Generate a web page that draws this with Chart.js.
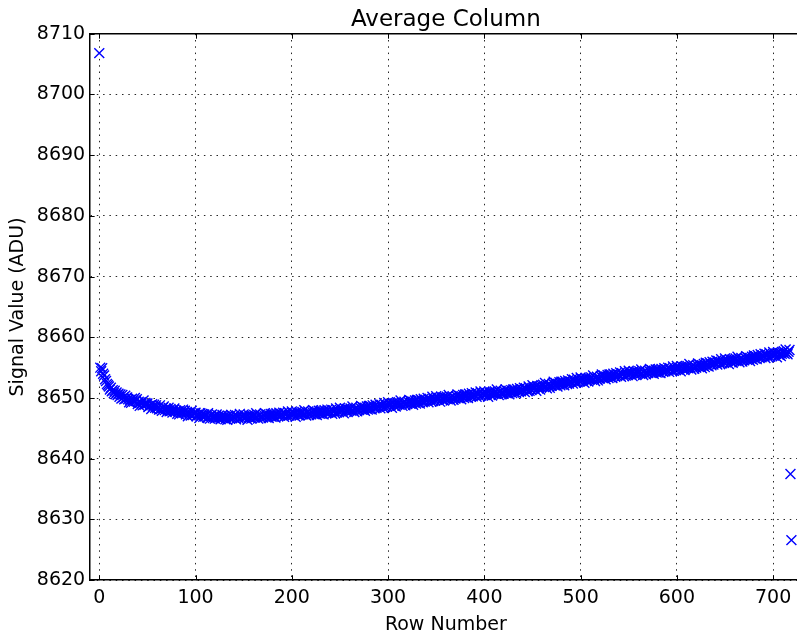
<!DOCTYPE html>
<html>
<head>
<meta charset="utf-8">
<script src="https://cdn.jsdelivr.net/npm/chart.js@4.4.1/dist/chart.umd.min.js"></script>
<style>
  html, body { margin: 0; padding: 0; background: #fff; overflow: hidden; }
  #wrap { width: 815px; height: 637px; }
</style>
</head>
<body>
<div id="wrap"><canvas id="grafico" width="815" height="637"></canvas></div>
<script>
// Valores (una columna media por fila)
const valores = [
  8706.8, 8655.0, 8654.4, 8654.9, 8654.0, 8653.7, 8653.1, 8652.8, 8652.3, 8652.1,
  8651.9, 8651.4, 8651.7, 8651.1, 8651.3, 8650.8, 8651.2, 8650.6, 8650.9, 8650.5,
  8650.7, 8650.2, 8650.6, 8649.9, 8650.5, 8650.1, 8649.8, 8650.4, 8649.9, 8650.1,
  8649.8, 8649.3, 8649.7, 8649.2, 8649.9, 8649.6, 8649.4, 8650.0, 8649.5, 8649.8,
  8649.0, 8649.4, 8648.7, 8649.3, 8649.1, 8648.8, 8649.6, 8648.9, 8649.2, 8649.0,
  8649.1, 8648.5, 8648.7, 8648.8, 8648.2, 8649.0, 8648.6, 8648.9, 8648.4, 8648.8,
  8648.3, 8648.5, 8648.1, 8648.8, 8648.2, 8647.9, 8648.4, 8648.6, 8648.0, 8648.3,
  8647.7, 8648.1, 8648.4, 8647.8, 8648.2, 8647.9, 8647.6, 8648.0, 8648.3, 8647.8,
  8647.9, 8647.4, 8647.8, 8647.3, 8648.0, 8647.7, 8647.5, 8648.1, 8647.6, 8647.9,
  8647.3, 8647.7, 8647.0, 8647.6, 8647.4, 8647.1, 8647.9, 8647.2, 8647.5, 8647.3,
  8647.6, 8647.0, 8647.2, 8647.3, 8646.7, 8647.5, 8647.1, 8647.4, 8646.9, 8647.3,
  8647.0, 8647.2, 8646.8, 8647.5, 8646.9, 8646.6, 8647.1, 8647.3, 8646.7, 8647.0,
  8646.6, 8647.0, 8647.3, 8646.7, 8647.1, 8646.8, 8646.5, 8646.9, 8647.2, 8646.7,
  8647.0, 8646.5, 8646.9, 8646.4, 8647.1, 8646.8, 8646.6, 8647.2, 8646.7, 8647.0,
  8646.8, 8647.2, 8646.5, 8647.1, 8646.9, 8646.6, 8647.4, 8646.7, 8647.0, 8646.8,
  8647.3, 8646.7, 8646.9, 8647.0, 8646.4, 8647.2, 8646.8, 8647.1, 8646.6, 8647.0,
  8647.0, 8647.2, 8646.8, 8647.5, 8646.9, 8646.6, 8647.1, 8647.3, 8646.7, 8647.0,
  8646.8, 8647.2, 8647.5, 8646.9, 8647.3, 8647.0, 8646.7, 8647.1, 8647.4, 8646.9,
  8647.4, 8646.9, 8647.3, 8646.8, 8647.5, 8647.2, 8647.0, 8647.6, 8647.1, 8647.4,
  8647.2, 8647.6, 8646.9, 8647.5, 8647.3, 8647.0, 8647.8, 8647.1, 8647.4, 8647.2,
  8647.8, 8647.2, 8647.4, 8647.5, 8646.9, 8647.7, 8647.3, 8647.6, 8647.1, 8647.5,
  8647.5, 8647.7, 8647.3, 8648.0, 8647.4, 8647.1, 8647.6, 8647.8, 8647.2, 8647.5,
  8647.3, 8647.7, 8648.0, 8647.4, 8647.8, 8647.5, 8647.2, 8647.6, 8647.9, 8647.4,
  8647.9, 8647.4, 8647.8, 8647.3, 8648.0, 8647.7, 8647.5, 8648.1, 8647.6, 8647.9,
  8647.7, 8648.1, 8647.4, 8648.0, 8647.8, 8647.5, 8648.3, 8647.6, 8647.9, 8647.7,
  8648.4, 8647.8, 8648.0, 8648.1, 8647.5, 8648.3, 8647.9, 8648.2, 8647.7, 8648.1,
  8648.1, 8648.3, 8647.9, 8648.6, 8648.0, 8647.7, 8648.2, 8648.4, 8647.8, 8648.1,
  8648.0, 8648.4, 8648.7, 8648.1, 8648.5, 8648.2, 8647.9, 8648.3, 8648.6, 8648.1,
  8648.7, 8648.2, 8648.6, 8648.1, 8648.8, 8648.5, 8648.3, 8648.9, 8648.4, 8648.7,
  8648.6, 8649.0, 8648.3, 8648.9, 8648.7, 8648.4, 8649.2, 8648.5, 8648.8, 8648.6,
  8649.3, 8648.7, 8648.9, 8649.0, 8648.4, 8649.2, 8648.8, 8649.1, 8648.6, 8649.0,
  8649.1, 8649.3, 8648.9, 8649.6, 8649.0, 8648.7, 8649.2, 8649.4, 8648.8, 8649.1,
  8649.0, 8649.4, 8649.7, 8649.1, 8649.5, 8649.2, 8648.9, 8649.3, 8649.6, 8649.1,
  8649.7, 8649.2, 8649.6, 8649.1, 8649.8, 8649.5, 8649.3, 8649.9, 8649.4, 8649.7,
  8649.6, 8650.0, 8649.3, 8649.9, 8649.7, 8649.4, 8650.2, 8649.5, 8649.8, 8649.6,
  8650.3, 8649.7, 8649.9, 8650.0, 8649.4, 8650.2, 8649.8, 8650.1, 8649.6, 8650.0,
  8650.0, 8650.2, 8649.8, 8650.5, 8649.9, 8649.6, 8650.1, 8650.3, 8649.7, 8650.0,
  8649.9, 8650.3, 8650.6, 8650.0, 8650.4, 8650.1, 8649.8, 8650.2, 8650.5, 8650.0,
  8650.6, 8650.1, 8650.5, 8650.0, 8650.7, 8650.4, 8650.2, 8650.8, 8650.3, 8650.6,
  8650.5, 8650.9, 8650.2, 8650.8, 8650.6, 8650.3, 8651.1, 8650.4, 8650.7, 8650.5,
  8651.1, 8650.5, 8650.7, 8650.8, 8650.2, 8651.0, 8650.6, 8650.9, 8650.4, 8650.8,
  8650.9, 8651.1, 8650.7, 8651.4, 8650.8, 8650.5, 8651.0, 8651.2, 8650.6, 8650.9,
  8650.7, 8651.1, 8651.4, 8650.8, 8651.2, 8650.9, 8650.6, 8651.0, 8651.3, 8650.8,
  8651.4, 8650.9, 8651.3, 8650.8, 8651.5, 8651.2, 8651.0, 8651.6, 8651.1, 8651.4,
  8651.3, 8651.7, 8651.0, 8651.6, 8651.4, 8651.1, 8651.9, 8651.2, 8651.5, 8651.3,
  8652.1, 8651.5, 8651.7, 8651.8, 8651.2, 8652.0, 8651.6, 8651.9, 8651.4, 8651.8,
  8652.0, 8652.2, 8651.8, 8652.5, 8651.9, 8651.6, 8652.1, 8652.3, 8651.7, 8652.0,
  8652.0, 8652.4, 8652.7, 8652.1, 8652.5, 8652.2, 8651.9, 8652.3, 8652.6, 8652.1,
  8652.7, 8652.2, 8652.6, 8652.1, 8652.8, 8652.5, 8652.3, 8652.9, 8652.4, 8652.7,
  8652.7, 8653.1, 8652.4, 8653.0, 8652.8, 8652.5, 8653.3, 8652.6, 8652.9, 8652.7,
  8653.4, 8652.8, 8653.0, 8653.1, 8652.5, 8653.3, 8652.9, 8653.2, 8652.7, 8653.1,
  8653.2, 8653.4, 8653.0, 8653.7, 8653.1, 8652.8, 8653.3, 8653.5, 8652.9, 8653.2,
  8653.2, 8653.6, 8653.9, 8653.3, 8653.7, 8653.4, 8653.1, 8653.5, 8653.8, 8653.3,
  8653.9, 8653.4, 8653.8, 8653.3, 8654.0, 8653.7, 8653.5, 8654.1, 8653.6, 8653.9,
  8653.8, 8654.2, 8653.5, 8654.1, 8653.9, 8653.6, 8654.4, 8653.7, 8654.0, 8653.8,
  8654.5, 8653.9, 8654.1, 8654.2, 8653.6, 8654.4, 8654.0, 8654.3, 8653.8, 8654.2,
  8654.2, 8654.4, 8654.0, 8654.7, 8654.1, 8653.8, 8654.3, 8654.5, 8653.9, 8654.2,
  8654.1, 8654.5, 8654.8, 8654.2, 8654.6, 8654.3, 8654.0, 8654.4, 8654.7, 8654.2,
  8654.7, 8654.2, 8654.6, 8654.1, 8654.8, 8654.5, 8654.3, 8654.9, 8654.4, 8654.7,
  8654.6, 8655.0, 8654.3, 8654.9, 8654.7, 8654.4, 8655.2, 8654.5, 8654.8, 8654.6,
  8655.3, 8654.7, 8654.9, 8655.0, 8654.4, 8655.2, 8654.8, 8655.1, 8654.6, 8655.0,
  8655.1, 8655.3, 8654.9, 8655.6, 8655.0, 8654.7, 8655.2, 8655.4, 8654.8, 8655.1,
  8655.0, 8655.4, 8655.7, 8655.1, 8655.5, 8655.2, 8654.9, 8655.3, 8655.6, 8655.1,
  8655.8, 8655.3, 8655.7, 8655.2, 8655.9, 8655.6, 8655.4, 8656.0, 8655.5, 8655.8,
  8655.8, 8656.2, 8655.5, 8656.1, 8655.9, 8655.6, 8656.4, 8655.7, 8656.0, 8655.8,
  8656.5, 8655.9, 8656.1, 8656.2, 8655.6, 8656.4, 8656.0, 8656.3, 8655.8, 8656.2,
  8656.3, 8656.5, 8656.1, 8656.8, 8656.2, 8655.9, 8656.4, 8656.6, 8656.0, 8656.3,
  8656.2, 8656.6, 8656.9, 8656.3, 8656.7, 8656.4, 8656.1, 8656.5, 8656.8, 8656.3,
  8657.0, 8656.5, 8656.9, 8656.4, 8657.1, 8656.8, 8656.6, 8657.2, 8656.7, 8657.0,
  8656.9, 8657.3, 8656.6, 8657.2, 8657.0, 8656.7, 8657.5, 8656.8, 8657.1, 8656.9,
  8657.6, 8657.0, 8657.2, 8657.3, 8656.7, 8657.5, 8657.1, 8657.4, 8656.9, 8657.3,
  8657.5, 8657.7, 8657.3, 8658.0, 8657.4, 8657.2, 8657.6, 8657.9, 8637.5, 8626.6
];
const filas = valores.map((_, i) => i); // número de fila

const ticksX = [0, 100, 200, 300, 400, 500, 600, 700];
const ticksY = [8620, 8630, 8640, 8650, 8660, 8670, 8680, 8690, 8700, 8710];

const fuente = "'DejaVu Sans', sans-serif";

// Marcas hacia dentro y marco superior, como en matplotlib
const marcasInternas = {
  id: "marcasInternas",
  afterDatasetsDraw(chart) {
    const { ctx, chartArea: a, scales: { x, y } } = chart;
    const largo = 5;
    ctx.save();
    ctx.strokeStyle = "#000";
    ctx.lineWidth = 1;
    ctx.beginPath();
    ticksX.forEach(v => {
      const px = Math.round(x.getPixelForValue(v)) + 0.5;
      ctx.moveTo(px, a.top); ctx.lineTo(px, a.top + largo);
      ctx.moveTo(px, a.bottom); ctx.lineTo(px, a.bottom - largo);
    });
    ticksY.forEach(v => {
      const py = Math.round(y.getPixelForValue(v)) + 0.5;
      ctx.moveTo(a.left, py); ctx.lineTo(a.left + largo, py);
      ctx.moveTo(a.right, py); ctx.lineTo(a.right - largo, py);
    });
    ctx.stroke();
    ctx.lineWidth = 1.5;
    ctx.beginPath();
    ctx.moveTo(a.left, a.top); ctx.lineTo(a.right, a.top);
    ctx.lineTo(a.right, a.bottom);
    ctx.stroke();
    ctx.restore();
  }
};

const sinComas = v => String(v);

const ctx = document.getElementById("grafico").getContext("2d");
new Chart(ctx, {
  type: "scatter",
  data: {
    datasets: [{
      label: "Average Column",
      data: filas.map(i => ({ x: i, y: valores[i] })),
      pointStyle: "crossRot",
      pointRadius: 7,
      pointHoverRadius: 7,
      pointBorderWidth: 1.4,
      borderColor: "#0000ff",
      backgroundColor: "#0000ff",
    }]
  },
  options: {
    responsive: false,
    animation: false,
    events: [],
    layout: { padding: { left: 3, right: 13, top: 0, bottom: 0 } },
    plugins: {
      legend: { display: false },
      tooltip: { enabled: false },
      title: {
        display: true,
        text: "Average Column",
        fullSize: false,
        color: "#000",
        font: { family: fuente, size: 23, weight: "normal", lineHeight: 1.0 },
        padding: { top: 9, bottom: 1.7 },
      },
    },
    scales: {
      x: {
        type: "linear",
        min: -10,
        max: 730,
        afterBuildTicks: eje => { eje.ticks = ticksX.map(v => ({ value: v })); },
        ticks: { color: "#000", padding: 6.5, maxRotation: 0, callback: sinComas, font: { family: fuente, size: 19 } },
        grid: { color: "rgba(0,0,0,0.85)", lineWidth: 1, drawTicks: false },
        border: { display: true, color: "#000", width: 1.5, dash: [1.5, 4.8] },
        title: {
          display: true,
          text: "Row Number",
          color: "#000",
          font: { family: fuente, size: 19, lineHeight: 1.0 },
          padding: { top: 0, bottom: 2 },
        },
      },
      y: {
        type: "linear",
        min: 8620,
        max: 8710,
        afterBuildTicks: eje => { eje.ticks = ticksY.map(v => ({ value: v })); },
        ticks: { color: "#000", padding: 4.5, callback: sinComas, font: { family: fuente, size: 19 } },
        grid: { color: "rgba(0,0,0,0.85)", lineWidth: 1, drawTicks: false },
        border: { display: true, color: "#000", width: 1.5, dash: [1.5, 4.8] },
        title: {
          display: true,
          text: "Signal Value (ADU)",
          color: "#000",
          font: { family: fuente, size: 19 },
          padding: { top: 4, bottom: 2.5 },
        },
      },
    },
  },
  plugins: [marcasInternas],
});
</script>
</body>
</html>
